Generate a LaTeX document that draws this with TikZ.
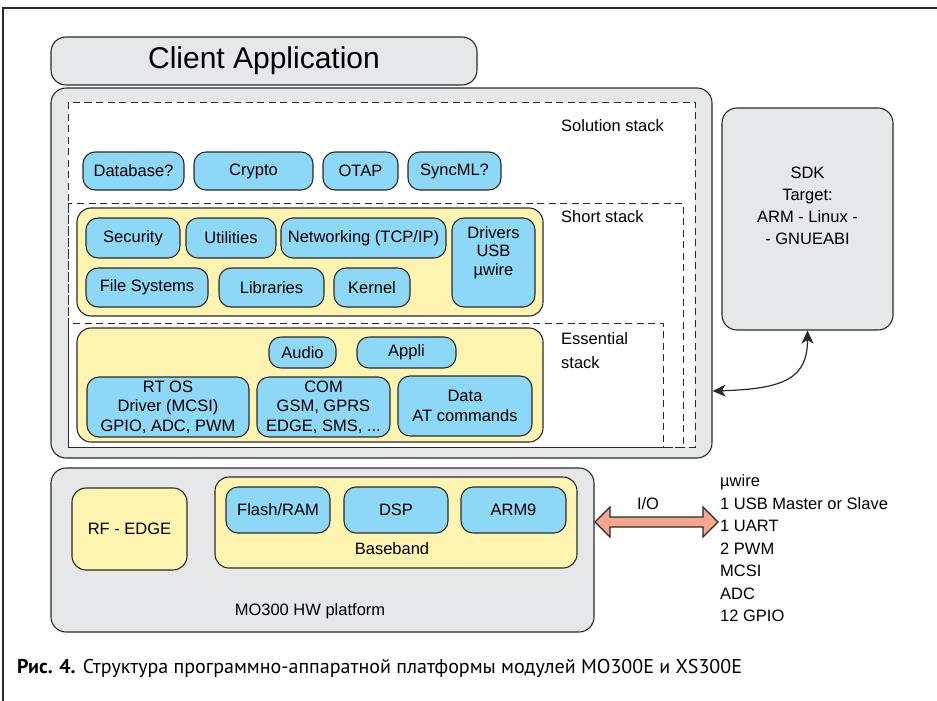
\documentclass[tikz,border=0pt]{standalone}
\usepackage{fontspec}
\setmainfont{Liberation Sans}
\newfontfamily\capfont{PT Sans}
\usetikzlibrary{arrows.meta}
\definecolor{grayfill}{HTML}{E6E7E8}
\definecolor{bluefill}{HTML}{8ED8F7}
\definecolor{yelfill}{HTML}{FFF5B1}
\definecolor{salmon}{HTML}{F5A68C}
\definecolor{linec}{HTML}{2A2A2A}
\newcommand{\dfont}{\fontsize{16.5}{19.5}\selectfont}
\tikzset{
  box/.style={draw=linec, line width=1.1pt, inner sep=0pt, align=center, font=\dfont, text=black},
  graybox/.style={box, fill=grayfill, rounded corners=15pt},
  bluebox/.style={box, fill=bluefill, rounded corners=12pt},
  yelbox/.style={box, fill=yelfill, rounded corners=14pt},
  dashbox/.style={draw=linec, line width=1pt, dash pattern=on 7pt off 4.5pt},
  lbl/.style={inner sep=0pt, font=\dfont, align=left, text=black},
  frameline/.style={draw=linec, line width=1.3pt},
}
\begin{document}
\begin{tikzpicture}[x=1pt,y=-1pt]
\useasboundingbox (0,0) rectangle (937,701);
\draw[frameline] (3,701) -- (3,8) -- (937,8);

% Client application
\node[graybox, minimum width=426, minimum height=48, font=\fontsize{30}{35}\selectfont] (client) at (264,61) {Client Application};

% main software box
\node[graybox, minimum width=661, minimum height=370] (main) at (381.5,273) {};
\fill[white] (68,102) rectangle (695,447);
\draw[dashbox] (68,102) rectangle (695,447);
\draw[dashbox] (68,203) rectangle (683,447);
\draw[dashbox] (68,323) rectangle (663,447);
\node[lbl, anchor=west] (soltxt) at (561,126) {Solution stack};
\node[lbl, anchor=west] (shorttxt) at (561,217) {Short stack};
\node[lbl, anchor=west, font=\fontsize{16.5}{24}\selectfont] (esstxt) at (561,351) {Essential\\stack};

% solution row
\node[bluebox, minimum width=101, minimum height=38] (db) at (133.5,171) {Database?};
\node[bluebox, minimum width=119, minimum height=38] (crypto) at (253.5,171) {Crypto};
\node[bluebox, minimum width=75, minimum height=38] (otap) at (360.5,171) {OTAP};
\node[bluebox, minimum width=93, minimum height=38] (sync) at (454.5,171) {SyncML?};

% short stack
\node[yelbox, minimum width=466, minimum height=108] (shorty) at (310,262) {};
\node[bluebox, minimum width=94, minimum height=40] (sec) at (133,238) {Security};
\node[bluebox, minimum width=90, minimum height=40] (util) at (231,238) {Utilities};
\node[bluebox, minimum width=165, minimum height=40] (net) at (363.5,238) {Networking (TCP/IP)};
\node[bluebox, minimum width=83, minimum height=89, font=\fontsize{16.5}{18.5}\selectfont] (drv) at (493.5,262.5) {Drivers\\USB\\µwire\\[5pt]};
\node[bluebox, minimum width=122, minimum height=39] (fs) at (147,287.5) {File Systems};
\node[bluebox, minimum width=105, minimum height=39] (lib) at (271.5,287.5) {Libraries};
\node[bluebox, minimum width=76, minimum height=39] (kern) at (372,287.5) {Kernel};

% essential stack
\node[yelbox, minimum width=466, minimum height=114] (essy) at (310,385) {};
\node[bluebox, minimum width=67, minimum height=31] (audio) at (302.5,352.5) {Audio};
\node[bluebox, minimum width=99, minimum height=31] (appli) at (406.5,352.5) {Appli};
\node[bluebox, minimum width=162, minimum height=60] (rtos) at (168,407) {RT OS\\Driver (MCSI)\\GPIO, ADC, PWM};
\node[bluebox, minimum width=133, minimum height=60] (com) at (323.5,407) {COM\\GSM, GPRS\\EDGE, SMS, ...};
\node[bluebox, minimum width=134, minimum height=60] (data) at (465,406) {Data\\AT commands};

% SDK
\node[graybox, minimum width=171, minimum height=222] (sdk) at (807.5,219) {};
\node[lbl, align=center, font=\fontsize{16.5}{22}\selectfont] (sdktxt) at (807.5,206) {SDK\\Target:\\ARM - Linux -\\- GNUEABI};
\coordinate (mainport) at (712.5,391);
\draw[linec, line width=1.2pt, {Stealth[length=13pt,width=12pt,inset=3.5pt]}-{Stealth[length=13pt,width=12pt,inset=3.5pt]}]
  (mainport) .. controls (785,389) and (807.5,378) .. (sdk.south);

% hardware
\node[graybox, minimum width=543, minimum height=164] (hw) at (322.5,550) {};
\node[lbl] (hwtxt) at (310,611) {MO300 HW platform};
\node[yelbox, minimum width=115, minimum height=82] (rf) at (129.5,529) {RF - EDGE};
\node[yelbox, minimum width=362, minimum height=91] (bb) at (396,522.5) {};
\node[lbl] (bbtxt) at (392,549) {Baseband};
\node[bluebox, minimum width=104, minimum height=46] (flash) at (278,510) {Flash/RAM};
\node[bluebox, minimum width=104, minimum height=46] (dsp) at (396,510) {DSP};
\node[bluebox, minimum width=105, minimum height=46] (arm) at (513.5,510) {ARM9};

% I/O arrow
\draw[draw=linec, line width=1.1pt, fill=salmon, line join=miter]
  (595,522) -- (610,507) -- (610,517) -- (703,517) -- (703,507) -- (718,522)
  -- (703,537) -- (703,527) -- (610,527) -- (610,537) -- cycle;
\node[lbl] (iotxt) at (648,504) {I/O};
\node[lbl, anchor=west, font=\fontsize{16.5}{22.5}\selectfont] (iolist) at (720,548.5)
  {µwire\\1 USB Master or Slave\\1 UART\\2 PWM\\MCSI\\ADC\\12 GPIO};

% caption
\node[inner sep=0pt, anchor=west, font=\capfont\fontsize{20}{23}\selectfont] (cap) at (17,668)
  {\textbf{Рис. 4.} Структура программно-аппаратной платформы модулей MO300E и XS300E};
\end{tikzpicture}
\end{document}
